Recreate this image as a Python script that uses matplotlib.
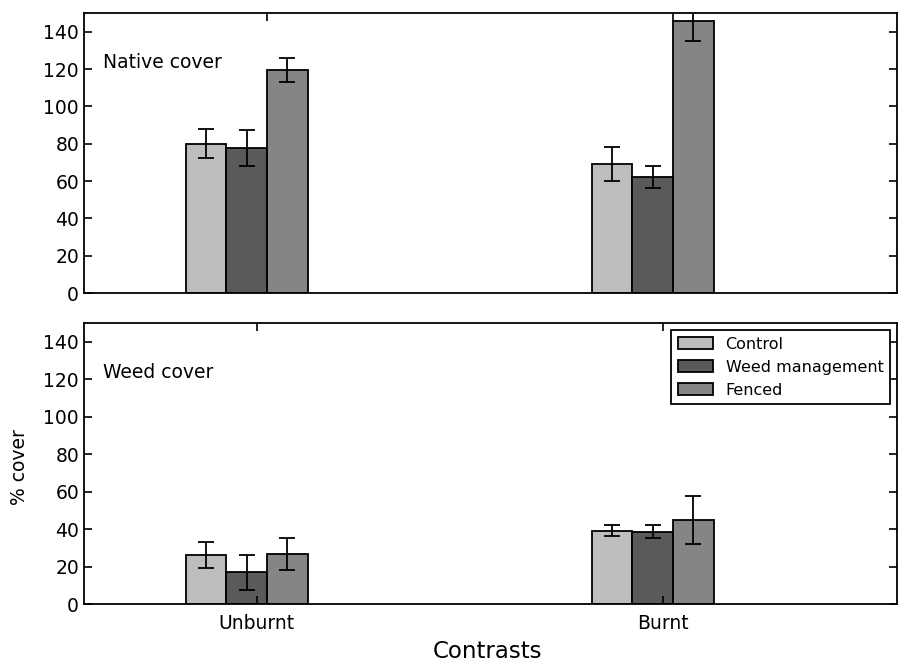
import numpy as np
import matplotlib
matplotlib.use('Agg')
import matplotlib.pyplot as plt

contrasts = ['Unburnt', 'Burnt']
treatments = ['Control', 'Weed management', 'Fenced']
colors = ['#bdbdbd', '#5a5a5a', '#858585']

# native cover (mean, error) for Unburnt / Burnt
native_control = [80.0, 69.1]
native_weed = [77.7, 62.2]
native_fenced = [119.4, 145.9]
native_control_err = [7.8, 9.1]
native_weed_err = [9.8, 5.7]
native_fenced_err = [6.6, 10.7]

# weed cover
weed_control = [26.2, 39.2]
weed_weed = [16.9, 38.7]
weed_fenced = [26.9, 44.9]
weed_control_err = [7.0, 3.0]
weed_weed_err = [9.3, 3.5]
weed_fenced_err = [8.5, 12.8]

plt.rcParams['font.family'] = 'DejaVu Sans'
plt.rcParams['xtick.direction'] = 'in'
plt.rcParams['ytick.direction'] = 'in'

fig = plt.figure(figsize=(9.02, 6.61), dpi=100)
ax1 = fig.add_axes([0.0931, 0.5567, 0.9014, 0.4236])
ax2 = fig.add_axes([0.0931, 0.0862, 0.9014, 0.4251])

x = np.arange(len(contrasts))
w = 0.1


def draw(ax, vals, errs, label, tick_shift):
    for i in range(3):
        ax.bar(x - 0.2 + i * w, vals[i], w, align='edge', color=colors[i],
               edgecolor='black', linewidth=1.3, label=treatments[i])
        ax.errorbar(x - 0.15 + i * w, vals[i], yerr=errs[i], fmt='none',
                    ecolor='black', elinewidth=1.3, capsize=6, capthick=1.3)
    ax.set_ylim(0, 150)
    ax.set_yticks(np.arange(0, 141, 20))
    ax.set_xlim(-0.451, 1.552)
    ax.set_xticks(x + tick_shift)
    ax.tick_params(axis='both', which='both', top=True, right=True,
                   length=6, width=1.2, labelsize=13.5)
    for s in ax.spines.values():
        s.set_linewidth(1.3)
    ax.text(0.023, 0.825, label, transform=ax.transAxes, fontsize=13.5,
            va='center', ha='left')


draw(ax1, [native_control, native_weed, native_fenced],
     [native_control_err, native_weed_err, native_fenced_err],
     'Native cover', 0.0)
ax1.set_xticklabels([])

draw(ax2, [weed_control, weed_weed, weed_fenced],
     [weed_control_err, weed_weed_err, weed_fenced_err],
     'Weed cover', -0.025)
ax2.set_xticklabels(contrasts)
ax2.tick_params(axis='x', pad=7)

ax2.legend(loc='upper right', fontsize=11.5, fancybox=False, framealpha=1,
           edgecolor='black', borderaxespad=0.45, handlelength=2.2)
ax2.get_legend().get_frame().set_linewidth(1.3)

fig.text(0.022, 1 - 467 / 661, '% cover', rotation=90, fontsize=13.5,
         ha='center', va='center')
fig.text(488 / 902, 1 - 651 / 661, 'Contrasts', fontsize=16.5,
         ha='center', va='center')

fig.savefig('out.png', dpi=100)
